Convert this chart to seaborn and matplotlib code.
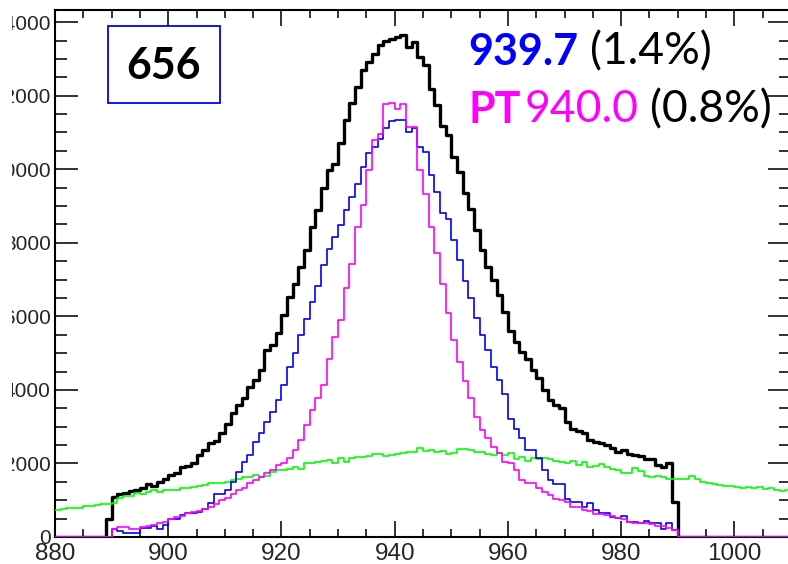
import numpy as np
import pandas as pd
import matplotlib
matplotlib.use("Agg")
import matplotlib.pyplot as plt
import seaborn as sns
from matplotlib.ticker import MultipleLocator
from matplotlib.patches import Rectangle
from matplotlib.transforms import Bbox, TransformedBbox

# ---------------- data (1-unit bins) ----------------
x_lo, x_hi = 880, 1010

black_start = 889
black_counts = [
    500, 1100, 1170, 1200, 1260, 1280, 1320, 1450, 1390, 1500,   # 889-898
    1590, 1690, 1750, 1910, 1930, 2020, 2230, 2360, 2560, 2620,  # 899-908
    2830, 3070, 3380, 3590, 3770, 4070, 4270, 4540, 5080, 5220,  # 909-918
    5560, 6030, 6530, 6890, 7340, 7800, 8430, 8890, 9480, 9970,  # 919-928
    10150, 10700, 11330, 11790, 12240, 12690, 12920, 13140, 13370, 13500,  # 929-938
    13550, 13600, 13640, 13320, 13460, 13050, 12830, 12190, 11740, 11170,  # 939-948
    10920, 10340, 9930, 9360, 8930, 8340, 7800, 7340, 7000, 6580,  # 949-958
    6120, 5610, 5310, 5040, 4830, 4540, 4310, 3990, 3720, 3590,    # 959-968
    3520, 3130, 2930, 2880, 2820, 2640, 2590, 2550, 2500, 2410,    # 969-978
    2320, 2360, 2270, 2230, 2200, 2110, 2110, 1960, 1890, 2020,    # 979-988
    950,                                                           # 989
]

blue_start = 890
blue_counts = [
    230, 150, 100, 100, 100, 250, 240, 300, 210, 330,            # 890-899
    500, 500, 600, 640, 650, 690, 750, 920, 1170, 1170,          # 900-909
    1280, 1500, 1770, 2050, 2230, 2590, 2840, 3130, 3400, 3720,  # 910-919
    4130, 4630, 4990, 5490, 5940, 6400, 6820, 7390, 7840, 8160,  # 920-929
    8480, 8890, 9250, 9610, 10060, 10450, 10610, 10830, 11110, 11300,  # 930-939
    11330, 11350, 11010, 11110, 10610, 10470, 9840, 9390, 8820, 8660,  # 940-949
    8070, 7530, 6950, 6490, 5950, 5490, 5080, 4630, 4270, 3890,  # 950-959
    3200, 2950, 2680, 2360, 2360, 2140, 1820, 1550, 1440, 1440,  # 960-969
    1020, 940, 940, 820, 920, 730, 660, 660, 550, 530,           # 970-979
    570, 420, 420, 390, 440, 370, 370, 210, 390, 190,            # 980-989
]

pt_start = 890
pt_counts = [
    230, 260, 260, 210, 230, 280, 300, 330, 370, 420,            # 890-899
    500, 540, 570, 640, 680, 720, 750, 820, 900, 1000,           # 900-909
    1050, 1170, 1280, 1320, 1460, 1550, 1640, 1730, 1820, 1950,  # 910-919
    2000, 2140, 2360, 2640, 3040, 3450, 3770, 4130, 4830, 5440,  # 920-929
    5910, 6760, 7420, 8430, 9020, 9970, 10790, 10970, 11770, 11800,  # 930-939
    11650, 11780, 11160, 11160, 9970, 9340, 8430, 7710, 6870, 6100,  # 940-949
    5350, 4750, 4240, 3770, 3270, 2910, 2680, 2460, 2290, 2050,  # 950-959
    2020, 1820, 1550, 1480, 1480, 1320, 1230, 1140, 1020, 1000,  # 960-969
    960, 810, 810, 730, 720, 630, 630, 600, 570, 530,            # 970-979
    480, 420, 370, 370, 390, 350, 290, 290, 250, 180,            # 980-989
]

green_start = 880
green_counts = [
    730, 760, 780, 790, 800, 830, 850, 870, 890, 900,            # 880-889
    920, 1050, 1110, 1120, 1190, 1180, 1230, 1280, 1230, 1280,   # 890-899
    1270, 1270, 1320, 1330, 1370, 1400, 1410, 1480, 1470, 1480,  # 900-909
    1500, 1550, 1570, 1620, 1640, 1690, 1640, 1650, 1780, 1820,  # 910-919
    1820, 1860, 1890, 1840, 2000, 2020, 2050, 2070, 2090, 2020,  # 920-929
    2160, 2050, 2140, 2170, 2180, 2200, 2250, 2250, 2200, 2230,  # 930-939
    2270, 2290, 2320, 2320, 2410, 2330, 2360, 2320, 2350, 2260,  # 940-949
    2290, 2380, 2400, 2360, 2320, 2320, 2270, 2230, 2280, 2230,  # 950-959
    2290, 2110, 2180, 2070, 2140, 2110, 2140, 2110, 2070, 2050,  # 960-969
    2000, 2070, 1960, 2040, 1910, 1930, 1990, 1890, 1840, 1820,  # 970-979
    1750, 1750, 1870, 1800, 1660, 1640, 1660, 1640, 1590, 1570,  # 980-989
    1590, 1570, 1660, 1570, 1500, 1460, 1440, 1410, 1390, 1390,  # 990-999
    1350, 1320, 1350, 1320, 1350, 1300, 1320, 1280, 1250, 1280,  # 1000-1009
]

label_box = "656"
line1 = ("939.7", "(1.4%)")
line2 = ("PT", "940.0", "(0.8%)")

# ---------------- build histogram table ----------------
edges = np.arange(x_lo, x_hi + 1)
centers = edges[:-1] + 0.5


def full(start, vals):
    arr = np.zeros(len(centers))
    i0 = start - x_lo
    arr[i0:i0 + len(vals)] = vals
    return arr


df = pd.DataFrame({
    "mass": np.tile(centers, 4),
    "count": np.concatenate([
        full(black_start, black_counts),
        full(green_start, green_counts),
        full(blue_start, blue_counts),
        full(pt_start, pt_counts),
    ]),
    "series": np.repeat(["all", "bkg", "reco", "pt"], len(centers)),
})

# ---------------- figure ----------------
W, H, DPI = 788, 564, 100
sns.set_theme(style="ticks")
plt.rcParams["font.family"] = ["Liberation Sans Narrow", "Liberation Sans",
                               "DejaVu Sans"]

fig = plt.figure(figsize=(W / DPI, H / DPI), dpi=DPI)
L, R, T, B = 55, 791, 10, 537
ax = fig.add_axes([L / W, 1 - B / H, (R - L) / W, (B - T) / H])

styles = {
    "all": dict(color="black", linewidth=2.4),
    "bkg": dict(color="#00ff00", linewidth=1.2),
    "reco": dict(color="#0000ff", linewidth=1.2),
    "pt": dict(color="#ff00ff", linewidth=1.2),
}
for name in ["all", "bkg", "reco", "pt"]:
    sub = df[df["series"] == name]
    sns.histplot(data=sub, x="mass", weights="count", binwidth=1,
                 binrange=(x_lo, x_hi), element="step", fill=False,
                 ax=ax, zorder=3, **styles[name])

ax.set_xlim(x_lo, x_hi)
ax.set_ylim(0, 14330)
ax.set_xlabel("")
ax.set_ylabel("")
ax.xaxis.set_major_locator(MultipleLocator(20))
ax.xaxis.set_minor_locator(MultipleLocator(5))
ax.yaxis.set_major_locator(MultipleLocator(2000))
ax.yaxis.set_minor_locator(MultipleLocator(500))
ax.tick_params(which="both", direction="in", top=True, right=True,
               color="#222222", width=1.3)
ax.tick_params(axis="x", which="major", length=11.5, labelsize=17.5, pad=4)
ax.tick_params(axis="x", which="minor", length=5.8)
ax.tick_params(axis="y", which="major", length=16.5, labelsize=15, pad=3)
ax.tick_params(axis="y", which="minor", length=8.6)
for sp in ax.spines.values():
    sp.set_color("black")
    sp.set_linewidth(1.5)

# the source picture is cropped a little right of the figure's left edge
clip = TransformedBbox(Bbox([[12 / W, 0], [1, 1]]), fig.transFigure)
for tk in ax.yaxis.get_major_ticks():
    tk.label1.set_clip_box(clip)
    tk.label1.set_clip_on(True)

# ---------------- annotations ----------------
def fx(px):
    return px / W


def fy(py):
    return 1 - py / H


fig.add_artist(Rectangle((fx(108), fy(103)), (220 - 108) / W, (103 - 26) / H,
                         transform=fig.transFigure, fill=True,
                         facecolor="white", edgecolor="#0000ff", linewidth=1.3))
fig.text(fx(164), fy(66), label_box, fontsize=31, fontweight="bold",
         family="Lato", ha="center", va="center", color="black")

fs_b, fs_r = 31, 32
fig.text(fx(468), fy(52), line1[0], fontsize=fs_b, fontweight="bold",
         family="Lato", color="#0000ff", va="center")
fig.text(fx(590), fy(52), line1[1], fontsize=fs_r, family="Lato",
         color="black", va="center")
fig.text(fx(468), fy(110), line2[0], fontsize=fs_b, fontweight="bold",
         family="Lato", color="#ff00ff", va="center")
fig.text(fx(525), fy(110), line2[1], fontsize=fs_r, family="Lato",
         color="#ff00ff", va="center")
fig.text(fx(650), fy(110), line2[2], fontsize=fs_r, family="Lato",
         color="black", va="center")

fig.savefig("out.png", dpi=DPI)
